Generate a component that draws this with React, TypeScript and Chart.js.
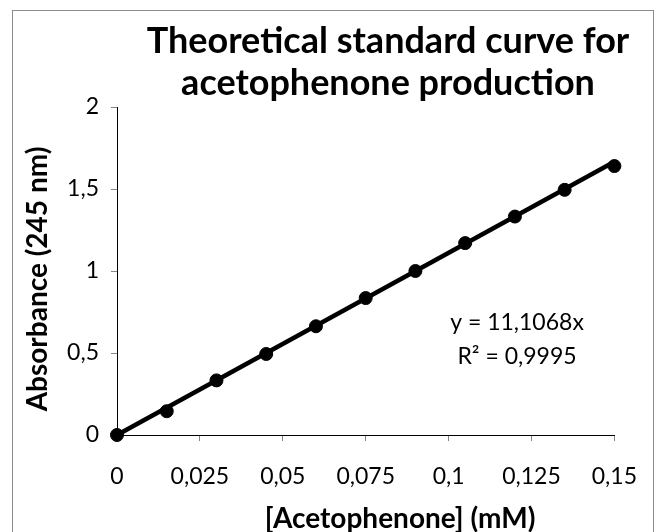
import React, { useEffect, useRef } from "react";
import { Chart, registerables } from "chart.js";

Chart.register(...registerables);

const xValues = [0, 0.015, 0.03, 0.045, 0.06, 0.075, 0.09, 0.105, 0.12, 0.135, 0.15];
const yValues = [0, 0.145, 0.333, 0.494, 0.663, 0.835, 1.0, 1.17, 1.332, 1.495, 1.64];
const slope = 11.1068;
const trendX = [0, 0.15];
const titleLines = ["Theoretical standard curve for", "acetophenone production"];
const xTitle = "[Acetophenone] (mM)";
const yTitle = "Absorbance (245 nm)";
const eqLines = ["y = 11,1068x", "R² = 0,9995"];

const FONT = "Lato, 'Open Sans', sans-serif";

const fmt = (v: number) => String(Number(v.toFixed(4))).replace(".", ",");

export default function App() {
  const ref = useRef<HTMLCanvasElement | null>(null);
  useEffect(() => {
    document.body.style.margin = "0";
    const canvas = ref.current!;
    const textPlugin = {
      id: "texts",
      afterDraw(chart: any) {
        const ctx = chart.ctx;
        ctx.save();
        // frame
        ctx.strokeStyle = "#8c8c8c";
        ctx.lineWidth = 1;
        ctx.strokeRect(12.5, 10.5, 641, 540);
        ctx.fillStyle = "#000";
        ctx.textAlign = "center";
        ctx.textBaseline = "alphabetic";
        ctx.font = `bold 36px ${FONT}`;
        ctx.fillText(titleLines[0], 388, 53);
        ctx.fillText(titleLines[1], 388, 95);
        // x title
        ctx.font = `bold 28px ${FONT}`;
        ctx.fillText(xTitle, 400, 528);
        // y title
        ctx.save();
        ctx.translate(47, 279);
        ctx.rotate(-Math.PI / 2);
        ctx.fillText(yTitle, 0, 0);
        ctx.restore();
        // equation
        ctx.font = `23px ${FONT}`;
        ctx.textBaseline = "middle";
        ctx.fillText(eqLines[0], 517, 323);
        ctx.fillText(eqLines[1], 517, 357);
        ctx.restore();
      },
    };
    const chart = new Chart(canvas, {
      type: "scatter",
      data: {
        datasets: [
          {
            label: "trend",
            data: trendX.map((x) => ({ x, y: slope * x })),
            showLine: true,
            borderColor: "#000",
            borderWidth: 4.5,
            pointRadius: 0,
            clip: false,
            order: 2,
          },
          {
            label: "data",
            data: xValues.map((x, i) => ({ x, y: yValues[i] })),
            showLine: false,
            backgroundColor: "#000",
            borderColor: "#000",
            pointRadius: 6.5,
            clip: false,
            order: 1,
          },
        ],
      },
      options: {
        responsive: false,
        animation: false,
        layout: { padding: { left: 12, top: 107, right: 44, bottom: 0 } },
        plugins: { legend: { display: false }, tooltip: { enabled: false }, title: { display: false } },
        scales: {
          x: {
            type: "linear",
            min: 0,
            max: 0.15,
            afterFit: (s: any) => { s.height = 97; },
            ticks: {
              stepSize: 0.025,
              callback: (v: any) => fmt(Number(v)),
              color: "#000",
              font: { family: FONT, size: 23 },
              padding: 22,
              maxRotation: 0,
            },
            grid: { drawOnChartArea: false, tickLength: 6, color: "#868686" },
            border: { color: "#000", width: 1 },
          },
          y: {
            type: "linear",
            min: 0,
            max: 2,
            afterFit: (s: any) => { s.width = 105; },
            ticks: {
              stepSize: 0.5,
              callback: (v: any) => fmt(Number(v)),
              color: "#000",
              font: { family: FONT, size: 23 },
              padding: 12,
            },
            grid: { drawOnChartArea: false, tickLength: 6, color: "#868686" },
            border: { color: "#000", width: 1 },
          },
        },
      },
      plugins: [textPlugin],
    });
    return () => chart.destroy();
  }, []);
  return (
    <div style={{ position: "fixed", left: 0, top: 0, width: 659, height: 532, background: "#fff" }}>
      <canvas ref={ref} width={659} height={532} style={{ width: 659, height: 532 }} />
    </div>
  );
}
